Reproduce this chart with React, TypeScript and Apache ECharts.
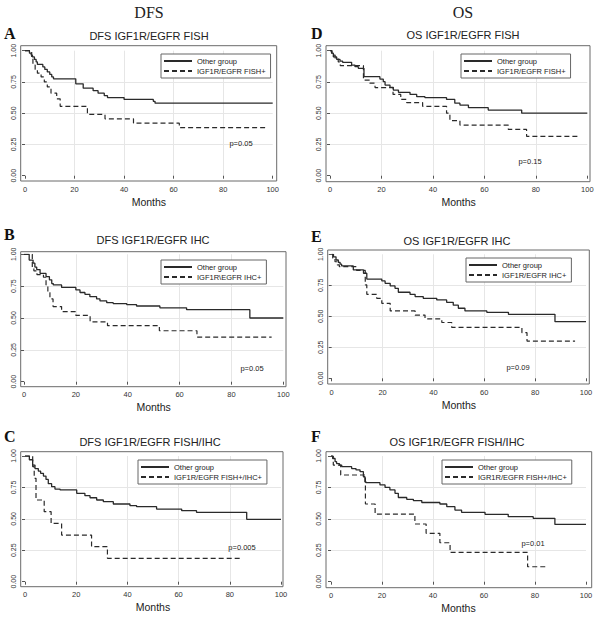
import React, { useEffect, useRef } from 'react';
import * as echarts from 'echarts';

// ---- tick labels ----
const MONTH_TICKS = [0, 20, 40, 60, 80, 100];
const SURV_TICK_LABELS = ['0.00', '0.25', '0.50', '0.75', '1.00'];

// ---- headers / titles ----
const COLUMN_HEADERS = ['DFS', 'OS'];
const PANEL_LETTERS = ['A', 'B', 'C', 'D', 'E', 'F'];
const PANEL_TITLES = [
  'DFS IGF1R/EGFR FISH',
  'DFS IGF1R/EGFR IHC',
  'DFS IGF1R/EGFR FISH/IHC',
  'OS IGF1R/EGFR FISH',
  'OS IGF1R/EGFR IHC',
  'OS IGF1R/EGFR FISH/IHC',
];
const OTHER_NAME = 'Other group';
const POSITIVE_NAMES = [
  'IGF1R/EGFR FISH+',
  'IGF1R\\EGFR IHC+',
  'IGF1R/EGFR FISH+/IHC+',
  'IGF1R/EGFR FISH+',
  'IGF1R/EGFR IHC+',
  'IGR1R/EGFR FISH+/IHC+',
];
const P_VALUES = ['p=0.05', 'p=0.05', 'p=0.005', 'p=0.15', 'p=0.09', 'p=0.01'];

// ---- survival data: [month, survival probability] ----
const A_OTHER = [[0,1],[1.8,0.98],[2.5,0.965],[3,0.95],[3.8,0.93],[4.5,0.91],[5,0.89],[7.2,0.87],[8,0.85],[9,0.83],[10,0.81],[10.8,0.79],[11.5,0.775],[20.5,0.735],[23.5,0.70],[27.5,0.68],[29.5,0.66],[32,0.64],[33.3,0.625],[40,0.61],[51.8,0.595],[52.5,0.58],[100,0.58]];
const A_POS = [[0,1],[2.7,0.94],[3.2,0.885],[4.1,0.85],[5,0.82],[6.5,0.79],[7.8,0.75],[9,0.71],[10.5,0.66],[12.8,0.615],[14.2,0.555],[25.2,0.49],[32.3,0.455],[43.8,0.42],[62.3,0.385],[97,0.385]];

const B_OTHER = [[0,1],[2,0.955],[3.5,0.93],[4.2,0.90],[4.9,0.88],[6.2,0.85],[8.5,0.825],[9.8,0.80],[10.7,0.77],[11.3,0.76],[14.5,0.74],[20,0.72],[21.6,0.70],[23.5,0.686],[25.4,0.667],[28,0.65],[29.3,0.634],[31.9,0.62],[34.4,0.613],[39.6,0.605],[43.4,0.594],[52.4,0.58],[62.7,0.565],[87.1,0.50],[100,0.50]];
const B_POS = [[0,1],[3.2,0.9],[3.8,0.87],[5,0.84],[7.5,0.82],[8.5,0.76],[9.2,0.70],[10,0.65],[11.2,0.59],[14.5,0.55],[20,0.52],[25.5,0.47],[32.2,0.44],[52.2,0.40],[66.7,0.35],[95.5,0.35]];

const C_OTHER = [[0,1],[1.7,0.97],[3,0.928],[3.9,0.90],[5.2,0.88],[6.1,0.862],[7.2,0.84],[8.2,0.814],[9.1,0.78],[10.4,0.756],[11.7,0.737],[13.7,0.73],[20.2,0.703],[23.4,0.684],[25.4,0.668],[28,0.65],[30.6,0.637],[34.5,0.618],[41,0.605],[43.6,0.597],[51.4,0.578],[61.2,0.565],[67,0.552],[86.6,0.496],[100,0.496]];
const C_POS = [[0,1],[3,0.915],[3.6,0.822],[4.3,0.65],[7.5,0.557],[10.2,0.464],[14.3,0.371],[26,0.279],[32.2,0.186],[84.6,0.186]];

const D_OTHER = [[0,1],[0.6,0.98],[1.3,0.95],[2.6,0.93],[3.9,0.917],[4.9,0.907],[8.4,0.885],[9.7,0.872],[11,0.859],[13.2,0.792],[19.4,0.773],[20.7,0.752],[21.4,0.725],[23.3,0.707],[24.6,0.685],[26.6,0.667],[31.1,0.65],[33.7,0.632],[36.9,0.624],[45.3,0.61],[48.5,0.58],[50.5,0.565],[53.8,0.544],[61.5,0.525],[74.5,0.5],[100,0.5]];
const D_POS = [[0,1],[0.8,0.965],[2,0.94],[3.2,0.91],[4,0.88],[13,0.765],[15.5,0.74],[17.5,0.705],[24.5,0.65],[27.5,0.61],[29.8,0.585],[36,0.555],[45.3,0.5],[46.6,0.44],[50.5,0.405],[69.3,0.37],[76.4,0.315],[96.5,0.315]];

const E_OTHER = [[0,1],[0.7,0.98],[1.7,0.954],[2.6,0.935],[3.3,0.92],[3.9,0.906],[8.5,0.874],[12.5,0.847],[13.8,0.80],[19.7,0.785],[21,0.766],[23,0.745],[24.9,0.726],[26.2,0.694],[30.8,0.677],[32.8,0.659],[36,0.645],[41.3,0.632],[45.2,0.613],[47.8,0.59],[49.8,0.565],[52.4,0.543],[61,0.532],[69.5,0.516],[87.8,0.457],[100,0.457]];
const E_POS = [[0,1],[0.4,0.968],[1.3,0.94],[2.2,0.914],[3,0.90],[9.8,0.87],[13.2,0.753],[13.8,0.677],[17.7,0.645],[19.7,0.605],[23,0.543],[32.8,0.51],[36.7,0.48],[43.3,0.45],[47.2,0.41],[74.8,0.368],[76.8,0.30],[95.7,0.30]];

const F_OTHER = [[0,1],[0.65,0.98],[1.6,0.955],[2.2,0.94],[3.3,0.928],[4.2,0.915],[8.1,0.90],[9.8,0.889],[11.4,0.875],[12.7,0.835],[13.3,0.795],[13.7,0.788],[19.2,0.77],[21.2,0.75],[23.1,0.73],[25.1,0.703],[26.4,0.67],[29.7,0.655],[32.3,0.645],[35.6,0.63],[42.7,0.618],[45.4,0.597],[48.6,0.57],[51.2,0.552],[60.4,0.536],[69.5,0.517],[79.3,0.504],[87.8,0.456],[100,0.456]];
const F_POS = [[0,1],[0.9,0.928],[3.8,0.849],[13.5,0.618],[17.3,0.538],[32.9,0.459],[37.3,0.385],[42.7,0.31],[46.7,0.233],[77.1,0.119],[85.2,0.119]];

const OTHER_DATA = [A_OTHER, B_OTHER, C_OTHER, D_OTHER, E_OTHER, F_OTHER];
const POS_DATA = [A_POS, B_POS, C_POS, D_POS, E_POS, F_POS];

// ---- layout (pixels) ----
// inner = data area (0..100 months, 0..1), outer = plot box
const LAYOUT = [
  { inner: [25, 50.7, 247.7, 125], outer: [20.7, 45.7, 256, 135.3], title: [149, 36], letter: [4, 33], legend: [161, 54], p: [241, 143] },
  { inner: [24, 254.3, 259.3, 127.4], outer: [20.7, 251.7, 265.3, 135], title: [153, 240], letter: [4, 234], legend: [161, 260], p: [252, 368] },
  { inner: [25, 456, 256, 125.7], outer: [20.7, 451.7, 262.3, 135], title: [150, 442], letter: [4, 436], legend: [138, 460], p: [242, 547] },
  { inner: [330, 50.7, 257.3, 125], outer: [326, 45.7, 264, 136], title: [463, 35], letter: [311, 33], legend: [461, 54], p: [530, 161] },
  { inner: [331.7, 254.3, 254.3, 124], outer: [327.7, 250, 261.6, 134], title: [457, 241], letter: [311, 236], legend: [466, 258], p: [518, 367] },
  { inner: [331, 456, 255, 125.7], outer: [326, 451.7, 265.7, 136], title: [457, 442], letter: [311, 436], legend: [442, 460], p: [533, 543] },
];
const HEADER_POS = [[149, 12], [463, 12]];

const SANS = '"Liberation Sans", Arial, sans-serif';
const SERIF = '"Liberation Serif", "Times New Roman", serif';
const LINE_COLOR = '#2a2a2a';
const AXIS_COLOR = '#555';

function buildOption() {
  const grids: any[] = [];
  const xAxes: any[] = [];
  const yAxes: any[] = [];
  const series: any[] = [];
  const legends: any[] = [];
  const graphics: any[] = [];
  const n = LAYOUT.length;

  LAYOUT.forEach((L, i) => {
    const [il, it, iw, ih] = L.inner;
    const [ol, ot, ow, oh] = L.outer;
    grids[i] = { left: il, top: it, width: iw, height: ih, containLabel: false };
    grids[n + i] = {
      left: ol, top: ot, width: ow, height: oh, show: true,
      borderColor: '#6a6a6a', borderWidth: 1, backgroundColor: 'transparent', z: 0,
    };
    const xOffset = ot + oh - (it + ih);
    const yOffset = il - ol;
    xAxes[i] = {
      type: 'value', gridIndex: i, min: MONTH_TICKS[0], max: MONTH_TICKS[MONTH_TICKS.length - 1],
      interval: MONTH_TICKS[1] - MONTH_TICKS[0], position: 'bottom', offset: xOffset,
      axisLine: { show: false },
      axisTick: { show: true, length: 3, lineStyle: { color: AXIS_COLOR, width: 1 } },
      axisLabel: { fontSize: 7.5, color: '#333', margin: 4, fontFamily: SANS },
      splitLine: { show: true, showMinLine: false, showMaxLine: false, lineStyle: { color: '#e6e6e6', width: 1 } },
      name: 'Months', nameLocation: 'middle', nameGap: 15,
      nameTextStyle: { fontSize: 10.5, color: '#222', fontFamily: SANS },
    };
    yAxes[i] = {
      type: 'value', gridIndex: i, min: 0, max: 1, interval: 0.25, position: 'left', offset: yOffset,
      axisLine: { show: false },
      axisTick: { show: true, length: 3, lineStyle: { color: AXIS_COLOR, width: 1 } },
      axisLabel: {
        fontSize: 7, color: '#333', margin: 4, rotate: 90, fontFamily: SANS,
        formatter: (v: number) => SURV_TICK_LABELS[Math.round(v * 4)] ?? '',
      },
      splitLine: { show: true, showMinLine: false, showMaxLine: false, lineStyle: { color: '#e6e6e6', width: 1 } },
    };
    xAxes[n + i] = { type: 'value', gridIndex: n + i, show: false, min: 0, max: 1 };
    yAxes[n + i] = { type: 'value', gridIndex: n + i, show: false, min: 0, max: 1 };

    series.push({
      type: 'line', name: OTHER_NAME, xAxisIndex: i, yAxisIndex: i, step: 'end',
      symbol: 'none', silent: true, data: OTHER_DATA[i], z: 3,
      lineStyle: { color: LINE_COLOR, width: 1.3, type: 'solid' },
      itemStyle: { color: LINE_COLOR },
    });
    series.push({
      type: 'line', name: POSITIVE_NAMES[i], xAxisIndex: i, yAxisIndex: i, step: 'end',
      symbol: 'none', silent: true, data: POS_DATA[i], z: 3,
      lineStyle: { color: LINE_COLOR, width: 1.2, type: [5, 3] },
      itemStyle: { color: LINE_COLOR },
    });

    legends.push({
      show: true, orient: 'vertical', left: L.legend[0], top: L.legend[1],
      data: [OTHER_NAME, POSITIVE_NAMES[i]], selectedMode: false,
      backgroundColor: '#fff', borderColor: '#666', borderWidth: 1,
      padding: [3, 5, 3, 2], itemGap: 2, itemWidth: 28, itemHeight: 8,
      itemStyle: { opacity: 0, color: 'transparent', borderColor: 'transparent', borderWidth: 0 },
      lineStyle: { color: LINE_COLOR },
      textStyle: { fontSize: 7.5, color: '#222', fontFamily: SANS },
      z: 10,
    });

    graphics.push({
      type: 'text', x: L.title[0], y: L.title[1],
      style: { text: PANEL_TITLES[i], font: `11px ${SANS}`, fill: '#222', align: 'center', verticalAlign: 'middle', textAlign: 'center', textVerticalAlign: 'middle' },
    });
    graphics.push({
      type: 'text', x: L.letter[0], y: L.letter[1],
      style: { text: PANEL_LETTERS[i], font: `bold 16px ${SERIF}`, fill: '#111', align: 'left', verticalAlign: 'middle', textAlign: 'left', textVerticalAlign: 'middle' },
    });
    graphics.push({
      type: 'text', x: L.p[0], y: L.p[1], z: 5,
      style: { text: P_VALUES[i], font: `7.5px ${SANS}`, fill: '#222', align: 'center', verticalAlign: 'middle', textAlign: 'center', textVerticalAlign: 'middle' },
    });
  });

  COLUMN_HEADERS.forEach((h, j) => {
    graphics.push({
      type: 'text', x: HEADER_POS[j][0], y: HEADER_POS[j][1],
      style: { text: h, font: `16px ${SERIF}`, fill: '#222', align: 'center', verticalAlign: 'middle', textAlign: 'center', textVerticalAlign: 'middle' },
    });
  });

  return {
    animation: false,
    backgroundColor: '#fff',
    grid: grids,
    xAxis: xAxes,
    yAxis: yAxes,
    legend: legends,
    series,
    graphic: graphics,
  };
}

export default function App() {
  const ref = useRef<HTMLDivElement>(null);
  useEffect(() => {
    if (!ref.current) return;
    const chart = echarts.init(ref.current, undefined, { renderer: 'svg' });
    chart.setOption(buildOption() as any);
    return () => chart.dispose();
  }, []);
  return (
    <div
      ref={ref}
      style={{ position: 'fixed', left: 0, top: 0, width: 600, height: 619, background: '#fff' }}
    />
  );
}
